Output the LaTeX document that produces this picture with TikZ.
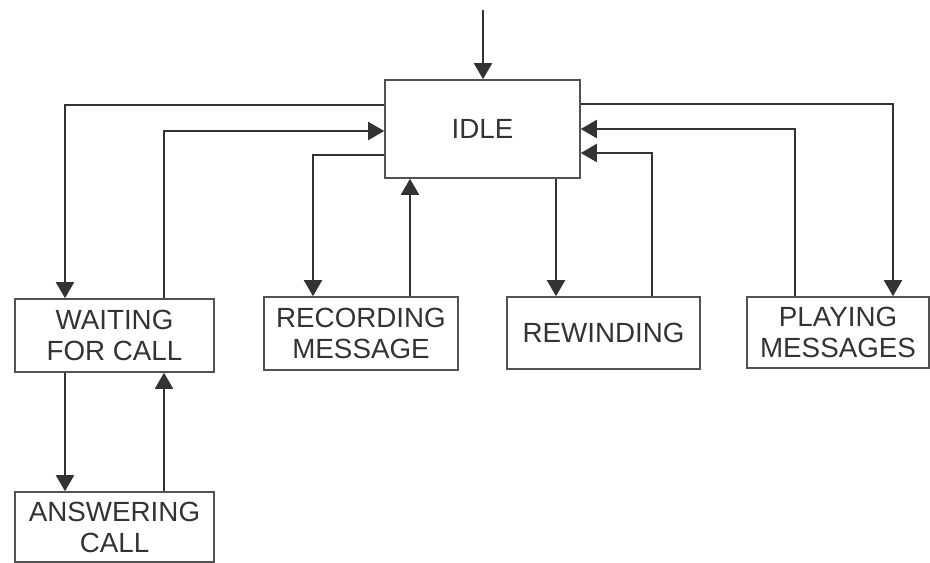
\documentclass[tikz,border=0pt]{standalone}
\usepackage{fontspec}
\setmainfont{Liberation Sans}
\usepackage{tikz}
\usetikzlibrary{arrows.meta}
\definecolor{ink}{HTML}{333333}
\tikzset{
>={Triangle[length=0.32cm, width=0.36cm]}, % filled heads
link/.style={->, draw=ink, line width=1.1pt}, % each connector
statebox/.style={rectangle, draw=ink!85, line width=0.9pt, inner sep=0pt, align=center, text=ink, font=\fontsize{15.8}{17.6}\selectfont}, % each box
}

\begin{document}
\begin{tikzpicture}[x=0.02cm, y=-0.02cm]
\useasboundingbox (0,0) rectangle (930,563);
\node[statebox, minimum width=3.9cm, minimum height=1.96cm] (idle) at (482.5,129) {IDLE};
\node[statebox, minimum width=3.98cm, minimum height=1.46cm] (waiting) at (114.5,335.5) {WAITING\\FOR CALL};
\node[statebox, minimum width=3.88cm, minimum height=1.46cm] (recording) at (361,333.5) {RECORDING\\MESSAGE};
\node[statebox, minimum width=3.86cm, minimum height=1.44cm] (rewinding) at (603.5,333) {REWINDING};
\node[statebox, minimum width=3.64cm, minimum height=1.42cm] (playing) at (838,332.5) {PLAYING\\MESSAGES};
\node[statebox, minimum width=3.98cm, minimum height=1.4cm] (answering) at (114.5,527) {ANSWERING\\CALL};
\coordinate (start) at (483,10);

\draw[link] (start) -- (idle.north -| start);
\draw[link] (idle.west |- 0,105) -| (waiting.north -| 65,0);
\draw[link] (waiting.north -| 164,0) |- (idle.west |- 0,131);
\draw[link] (idle.west |- 0,155) -| (recording.north -| 313,0);
\draw[link] (recording.north -| 410,0) -- (idle.south -| 410,0);
\draw[link] (idle.south -| 556,0) -- (rewinding.north -| 556,0);
\draw[link] (rewinding.north -| 652,0) |- (idle.east |- 0,153);
\draw[link] (playing.north -| 795,0) |- (idle.east |- 0,129);
\draw[link] (idle.east |- 0,104) -| (playing.north -| 893,0);
\draw[link] (waiting.south -| 65,0) -- (answering.north -| 65,0);
\draw[link] (answering.north -| 164,0) -- (waiting.south -| 164,0);

\end{tikzpicture}
\end{document}
